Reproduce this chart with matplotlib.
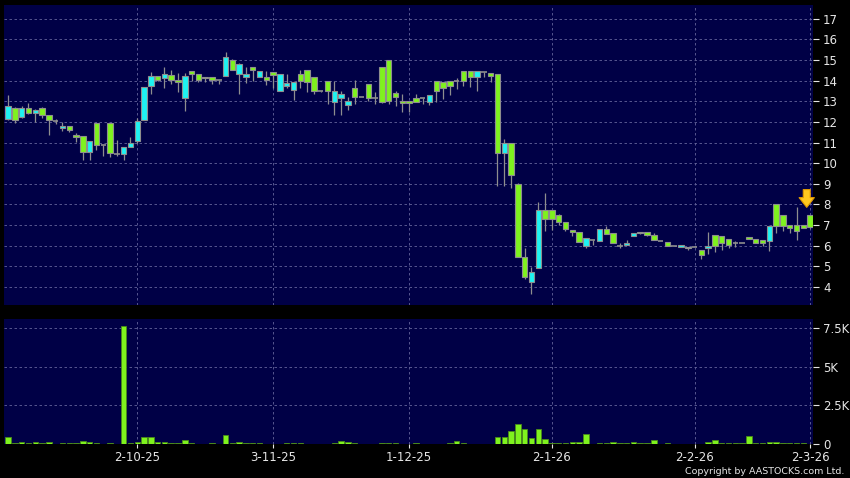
import numpy as np
import matplotlib
matplotlib.use("Agg")
import matplotlib.pyplot as plt

# daily candles, oldest first (index 0 .. 118)
opens = [12.16, 12.69, 12.26, 12.66, 12.43, 12.69, 12.31, 12.03, 11.70, 11.80,
         11.36, 11.31, 10.54, 11.97, 10.87, 11.97, 10.46, 10.44, 10.79, 11.08,
         12.07, 13.74, 14.23, 14.13, 14.26, 14.02, 13.18, 14.48, 14.31, 14.20,
         14.20, 14.03, 14.23, 14.98, 14.34, 14.18, 14.66, 14.18, 14.18, 14.41,
         13.52, 13.74, 13.54, 14.33, 14.51, 14.16, 13.52, 13.97, 12.95, 13.18,
         12.80, 13.62, 13.20, 13.82, 13.16, 14.67, 15.00, 13.38, 13.00, 13.00,
         13.18, 13.16, 12.98, 14.00, 13.92, 14.00, 13.97, 14.49, 14.49, 14.20,
         14.42, 14.36, 14.31, 10.50, 10.99, 9.00, 5.46, 4.24, 4.89, 7.72,
         7.72, 7.48, 7.14, 6.78, 6.68, 5.97, 6.26, 6.20, 6.80, 6.60,
         5.98, 6.02, 6.47, 6.60, 6.68, 6.52, 6.20, 6.16, 6.00, 5.92,
         5.87, 5.95, 5.81, 5.90, 6.52, 6.47, 6.30, 6.13, 6.12, 6.42,
         6.30, 6.25, 6.20, 8.00, 7.49, 7.00, 6.99, 6.99, 7.49]
highs = [13.30, 12.72, 12.75, 12.90, 12.62, 12.72, 12.31, 12.13, 12.00, 11.80,
         11.48, 11.31, 11.08, 11.97, 10.87, 11.97, 11.10, 10.79, 11.28, 12.20,
         13.69, 14.40, 14.23, 14.64, 14.50, 14.35, 14.36, 14.48, 14.31, 14.20,
         14.20, 14.03, 15.38, 15.05, 14.85, 14.66, 14.66, 14.48, 14.48, 14.41,
         14.34, 14.34, 13.93, 14.51, 14.51, 14.16, 13.52, 13.97, 13.97, 13.52,
         13.23, 14.02, 13.20, 13.82, 13.46, 14.67, 15.00, 13.48, 13.36, 13.00,
         13.33, 13.16, 13.28, 14.00, 13.92, 14.00, 14.12, 14.49, 14.49, 14.46,
         14.42, 14.36, 14.31, 11.19, 10.99, 9.03, 5.87, 4.97, 8.11, 8.55,
         7.72, 7.55, 7.14, 6.78, 6.68, 6.39, 6.26, 6.80, 6.93, 6.60,
         6.11, 6.28, 6.62, 6.68, 6.68, 6.60, 6.20, 6.16, 6.00, 6.02,
         5.95, 5.95, 5.81, 6.67, 6.52, 6.47, 6.30, 6.23, 6.12, 6.42,
         6.30, 6.25, 6.97, 8.00, 7.49, 7.00, 7.85, 6.99, 7.49]
lows = [12.10, 11.97, 12.20, 12.40, 12.00, 12.20, 11.36, 11.89, 11.55, 11.50,
        11.03, 10.13, 10.16, 10.66, 10.33, 10.30, 10.36, 10.16, 10.79, 11.00,
        12.07, 13.33, 13.96, 13.62, 13.83, 13.47, 12.54, 13.96, 13.93, 13.93,
        13.84, 13.84, 14.23, 14.52, 13.33, 13.90, 14.00, 14.18, 13.80, 13.66,
        13.52, 13.64, 13.08, 13.62, 13.46, 13.36, 13.44, 12.87, 12.33, 12.33,
        12.56, 12.87, 13.20, 13.03, 12.87, 12.92, 12.87, 12.75, 12.49, 12.49,
        12.95, 12.89, 12.82, 12.98, 13.11, 13.30, 13.59, 13.76, 13.70, 13.52,
        14.16, 13.93, 8.88, 8.88, 8.80, 5.46, 4.40, 3.63, 4.89, 6.73,
        6.76, 6.98, 6.70, 6.45, 6.16, 5.87, 6.03, 6.20, 6.57, 6.11,
        5.86, 6.02, 6.47, 6.55, 6.45, 6.25, 6.20, 5.97, 6.00, 5.92,
        5.80, 5.95, 5.37, 5.60, 5.68, 5.80, 5.90, 5.95, 6.12, 6.30,
        6.12, 6.00, 5.74, 6.60, 6.73, 6.60, 6.28, 6.83, 6.83]
closes = [12.79, 12.07, 12.69, 12.41, 12.60, 12.34, 12.11, 12.03, 11.82, 11.60,
          11.26, 10.54, 11.08, 10.87, 10.87, 10.48, 10.46, 10.79, 10.97, 12.02,
          13.69, 14.23, 14.03, 14.33, 14.03, 13.92, 14.21, 14.33, 14.03, 14.11,
          14.03, 14.03, 15.15, 14.52, 14.80, 14.33, 14.52, 14.48, 14.03, 14.28,
          14.34, 13.89, 13.93, 13.98, 13.93, 13.49, 13.52, 13.49, 13.49, 13.34,
          13.00, 13.20, 13.20, 13.18, 13.16, 12.95, 13.00, 13.20, 12.92, 12.92,
          12.95, 13.16, 13.28, 13.51, 13.66, 13.76, 13.97, 14.00, 14.16, 14.46,
          14.42, 14.21, 10.50, 10.99, 9.41, 5.46, 4.46, 4.73, 7.72, 7.28,
          7.28, 7.15, 6.80, 6.68, 6.16, 6.39, 6.26, 6.80, 6.57, 6.11,
          5.98, 6.13, 6.62, 6.68, 6.49, 6.29, 6.20, 5.97, 6.00, 6.02,
          5.95, 5.95, 5.53, 6.00, 6.00, 6.12, 6.02, 6.13, 6.12, 6.30,
          6.12, 6.12, 6.97, 6.94, 6.94, 6.83, 6.70, 6.83, 6.88]
# volume in thousands
volume = [0.45, 0.08, 0.15, 0.08, 0.13, 0.08, 0.10, 0.02, 0.08, 0.06,
          0.06, 0.20, 0.13, 0.06, 0.02, 0.08, 0.02, 7.60, 0.08, 0.15,
          0.47, 0.47, 0.15, 0.13, 0.08, 0.08, 0.24, 0.06, 0.02, 0.02,
          0.08, 0.02, 0.56, 0.08, 0.13, 0.06, 0.06, 0.06, 0.02, 0.02,
          0.02, 0.06, 0.08, 0.04, 0.02, 0.02, 0.02, 0.02, 0.04, 0.20,
          0.15, 0.06, 0.03, 0.03, 0.03, 0.04, 0.04, 0.04, 0.02, 0.02,
          0.06, 0.02, 0.03, 0.03, 0.03, 0.04, 0.22, 0.04, 0.02, 0.02,
          0.02, 0.03, 0.45, 0.47, 0.81, 1.30, 0.95, 0.37, 1.00, 0.30,
          0.08, 0.06, 0.08, 0.10, 0.10, 0.62, 0.02, 0.08, 0.08, 0.15,
          0.08, 0.08, 0.10, 0.06, 0.06, 0.26, 0.02, 0.06, 0.02, 0.02,
          0.02, 0.02, 0.02, 0.15, 0.24, 0.08, 0.08, 0.06, 0.04, 0.54,
          0.08, 0.04, 0.15, 0.15, 0.06, 0.06, 0.04, 0.04, 0.02]

date_pos = [19, 39, 59, 80, 101, 118]
date_labels = ["2-10-25", "3-11-25", "1-12-25", "2-1-26", "2-2-26", "2-3-26"]
price_ticks = list(range(4, 18))
vol_ticks = [0, 2.5, 5, 7.5]
vol_labels = ["0", "2.5K", "5K", "7.5K"]

BG = "#000046"
UP = "#1ef2f2"
DOWN = "#7ff21e"
EDGE = "#8e8e8e"
TXT = "#e6e6e6"
GRID = "#64649a"

o = np.array(opens)
h = np.array(highs)
l = np.array(lows)
c = np.array(closes)
x = np.arange(len(o))

fig = plt.figure(figsize=(8.5, 4.78), dpi=100, facecolor="black")
ax = fig.add_axes([0.0047, 0.362, 0.952, 0.628], facecolor=BG)
axv = fig.add_axes([0.0047, 0.0711, 0.952, 0.2615], facecolor=BG)

w = 0.8
ax.vlines(x, l, h, color=EDGE, linewidth=0.9, zorder=2)
doji = o == c
up = (c > o)
dn = (c < o)
ax.bar(x[up], (c - o)[up], bottom=o[up], width=w, color=UP,
       edgecolor=EDGE, linewidth=0.8, zorder=3)
ax.bar(x[dn], (o - c)[dn], bottom=c[dn], width=w, color=DOWN,
       edgecolor=EDGE, linewidth=0.8, zorder=3)
ax.hlines(o[doji], x[doji] - w / 2, x[doji] + w / 2, color=EDGE,
          linewidth=1.2, zorder=3)

# marker arrow over the latest bar
xa = x[-1] - 0.5
ax.annotate("", xy=(xa, 7.72), xytext=(xa, 8.85),
            arrowprops=dict(arrowstyle="simple,head_width=1.1,head_length=0.7,tail_width=0.5",
                            fc="#ffc81e", ec="#e09a00", lw=0.8), zorder=5)

axv.bar(x, volume, width=w, color=DOWN, edgecolor="#4a8a1a",
        linewidth=0.6, zorder=3)

for a in (ax, axv):
    a.set_xlim(-0.6, len(o) - 0.55)
    for s in a.spines.values():
        s.set_visible(False)
    a.yaxis.tick_right()
    a.tick_params(axis="y", colors=TXT, labelsize=8.5, length=4, width=0.8,
                  pad=3, direction="out")
    a.tick_params(axis="x", colors=TXT, labelsize=8.5, length=3, width=0.8,
                  pad=2)
    a.set_xticks(date_pos)
    a.grid(True, color=GRID, linestyle=(0, (3, 3)), linewidth=0.6, zorder=0)
    a.set_axisbelow(True)

ax.set_ylim(3.12, 17.68)
ax.set_yticks(price_ticks)
ax.set_yticklabels([str(t) for t in price_ticks])
ax.tick_params(axis="x", length=0, labelbottom=False)

axv.set_ylim(0, 8.08)
axv.set_yticks(vol_ticks)
axv.set_yticklabels(vol_labels)
axv.set_xticklabels(date_labels)

fig.text(0.993, 0.004, "Copyright by AASTOCKS.com Ltd.", color=TXT,
         fontsize=6.8, ha="right", va="bottom")

fig.savefig("out.png", dpi=100, facecolor="black")
